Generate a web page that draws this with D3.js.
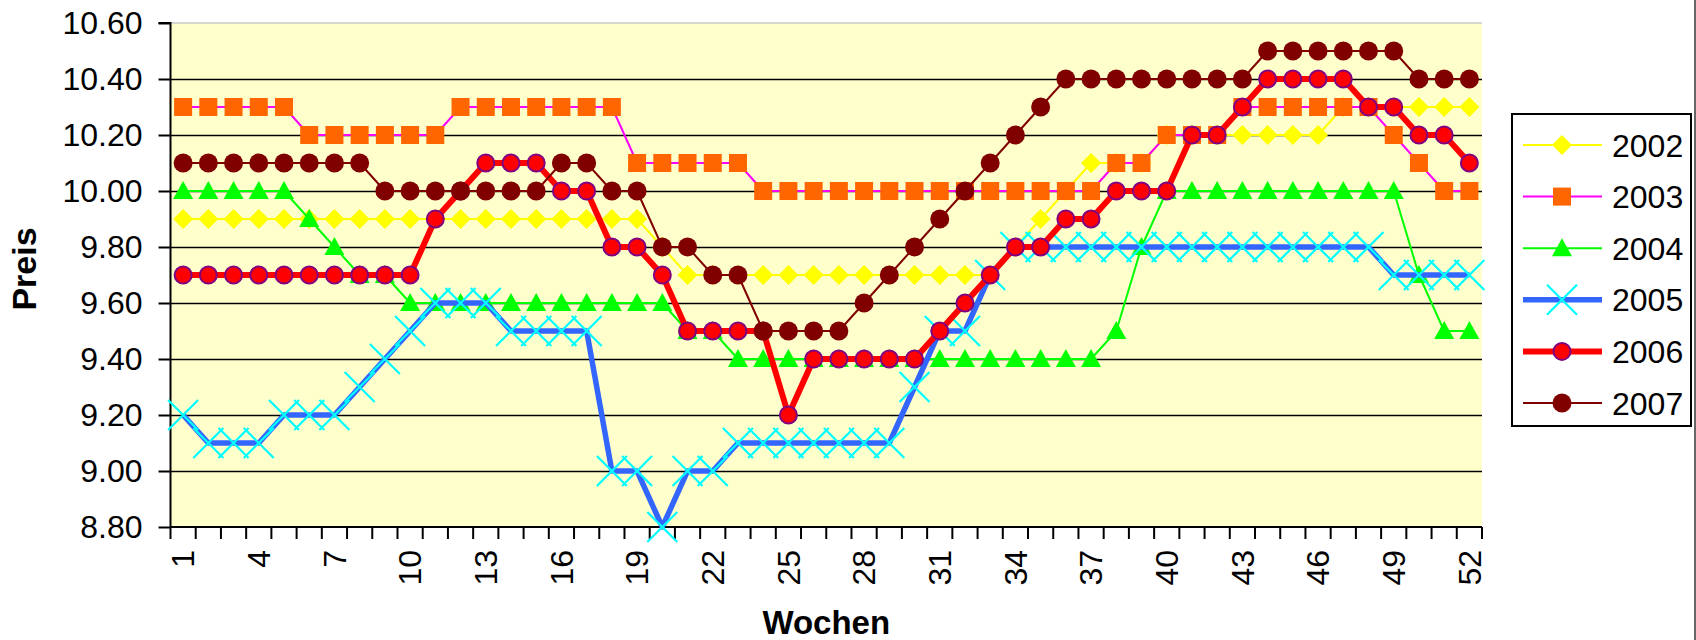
<!DOCTYPE html>
<html>
<head>
<meta charset="utf-8">
<script src="https://cdn.jsdelivr.net/npm/d3@7"></script>
<style>
  html, body { margin: 0; padding: 0; background: #fff; }
  svg { display: block; font-family: "Liberation Sans", Arial, sans-serif; }
</style>
</head>
<body>
<svg id="chart" width="1696" height="640"></svg>
<script>
// Weekly prices per year (weeks 1..52)
const weeks = d3.range(1, 53);
const yTicks = [8.8, 9.0, 9.2, 9.4, 9.6, 9.8, 10.0, 10.2, 10.4, 10.6];
const weekLabels = [1, 4, 7, 10, 13, 16, 19, 22, 25, 28, 31, 34, 37, 40, 43, 46, 49, 52];

const p2002 = [9.9,9.9,9.9,9.9,9.9,9.9,9.9,9.9,9.9,9.9,9.9,9.9,9.9,9.9,9.9,9.9,9.9,9.9,9.9,9.8,
  9.7,9.7,9.7,9.7,9.7,9.7,9.7,9.7,9.7,9.7,9.7,9.7,9.7,9.8,9.9,10.0,10.1,10.1,10.1,10.2,
  10.2,10.2,10.2,10.2,10.2,10.2,10.3,10.3,10.3,10.3,10.3,10.3];
const p2003 = [10.3,10.3,10.3,10.3,10.3,10.2,10.2,10.2,10.2,10.2,10.2,10.3,10.3,10.3,10.3,10.3,10.3,10.3,10.1,10.1,
  10.1,10.1,10.1,10.0,10.0,10.0,10.0,10.0,10.0,10.0,10.0,10.0,10.0,10.0,10.0,10.0,10.0,10.1,10.1,10.2,
  10.2,10.2,10.3,10.3,10.3,10.3,10.3,10.3,10.2,10.1,10.0,10.0];
const p2004 = [10.0,10.0,10.0,10.0,10.0,9.9,9.8,9.7,9.7,9.6,9.6,9.6,9.6,9.6,9.6,9.6,9.6,9.6,9.6,9.6,
  9.5,9.5,9.4,9.4,9.4,9.4,9.4,9.4,9.4,9.4,9.4,9.4,9.4,9.4,9.4,9.4,9.4,9.5,9.8,10.0,
  10.0,10.0,10.0,10.0,10.0,10.0,10.0,10.0,10.0,9.7,9.5,9.5];
const p2005 = [9.2,9.1,9.1,9.1,9.2,9.2,9.2,9.3,9.4,9.5,9.6,9.6,9.6,9.5,9.5,9.5,9.5,9.0,9.0,8.8,
  9.0,9.0,9.1,9.1,9.1,9.1,9.1,9.1,9.1,9.3,9.5,9.5,9.7,9.8,9.8,9.8,9.8,9.8,9.8,9.8,
  9.8,9.8,9.8,9.8,9.8,9.8,9.8,9.8,9.7,9.7,9.7,9.7];
const p2006 = [9.7,9.7,9.7,9.7,9.7,9.7,9.7,9.7,9.7,9.7,9.9,10.0,10.1,10.1,10.1,10.0,10.0,9.8,9.8,9.7,
  9.5,9.5,9.5,9.5,9.2,9.4,9.4,9.4,9.4,9.4,9.5,9.6,9.7,9.8,9.8,9.9,9.9,10.0,10.0,10.0,
  10.2,10.2,10.3,10.4,10.4,10.4,10.4,10.3,10.3,10.2,10.2,10.1];
const p2007 = [10.1,10.1,10.1,10.1,10.1,10.1,10.1,10.1,10.0,10.0,10.0,10.0,10.0,10.0,10.0,10.1,10.1,10.0,10.0,9.8,
  9.8,9.7,9.7,9.5,9.5,9.5,9.5,9.6,9.7,9.8,9.9,10.0,10.1,10.2,10.3,10.4,10.4,10.4,10.4,10.4,
  10.4,10.4,10.4,10.5,10.5,10.5,10.5,10.5,10.5,10.4,10.4,10.4];

const series = [
  { name: "2002", values: p2002, line: "#FFFF00", width: 2, marker: "diamond", fill: "#FFFF00", stroke: "none" },
  { name: "2003", values: p2003, line: "#FF00FF", width: 2, marker: "square", fill: "#FF6600", stroke: "none" },
  { name: "2004", values: p2004, line: "#00FF00", width: 2, marker: "triangle", fill: "#00FF00", stroke: "none" },
  { name: "2005", values: p2005, line: "#3366FF", width: 5.5, marker: "x", fill: "none", stroke: "#00FFFF" },
  { name: "2006", values: p2006, line: "#FF0000", width: 6, marker: "circle", fill: "#FF0000", stroke: "#800080" },
  { name: "2007", values: p2007, line: "#800000", width: 2, marker: "circle", fill: "#800000", stroke: "none" }
];

const svg = d3.select("#chart");
const plot = { left: 170.5, right: 1482, top: 23, bottom: 527 };

const x = d3.scaleBand().domain(weeks).range([plot.left, plot.right]).padding(0);
const y = d3.scaleLinear().domain([8.8, 10.6]).range([plot.bottom, plot.top]);
const cx = w => x(w) + x.bandwidth() / 2;

// plot background
svg.append("rect")
  .attr("x", plot.left).attr("y", plot.top)
  .attr("width", plot.right - plot.left).attr("height", plot.bottom - plot.top)
  .attr("fill", "#FFFFCC");

// top border of plot area
svg.append("line")
  .attr("x1", plot.left).attr("x2", plot.right)
  .attr("y1", plot.top).attr("y2", plot.top)
  .attr("stroke", "#c8c8c8").attr("stroke-width", 1.5);

// horizontal gridlines
svg.append("g").selectAll("line")
  .data(yTicks.filter(v => v > 8.8 && v < 10.6))
  .join("line")
  .attr("x1", plot.left).attr("x2", plot.right)
  .attr("y1", d => Math.round(y(d)) + 0.5).attr("y2", d => Math.round(y(d)) + 0.5)
  .attr("stroke", "#000").attr("stroke-width", 1.6);

// y axis
const yAxis = d3.axisLeft(y).tickValues(yTicks).tickFormat(d3.format(".2f")).tickSize(12).tickPadding(16);
const gy = svg.append("g").attr("transform", `translate(${plot.left},0)`).call(yAxis);
gy.select(".domain").attr("stroke", "#000").attr("stroke-width", 2).attr("d", `M-12,${plot.top}H0V${plot.bottom}`);
gy.selectAll(".tick line").attr("stroke", "#000").attr("stroke-width", 2);
gy.selectAll(".tick text").attr("font-size", 32).attr("fill", "#000")
  .attr("font-family", "'Liberation Sans', Arial, sans-serif");

// x axis: ticks at every category boundary
const gx = svg.append("g").attr("transform", `translate(0,${plot.bottom})`);
gx.append("line").attr("x1", plot.left).attr("x2", plot.right)
  .attr("y1", 0).attr("y2", 0).attr("stroke", "#000").attr("stroke-width", 2);
gx.selectAll("line.tk")
  .data(weeks.map(w => x(w)).concat([plot.right]))
  .join("line").attr("class", "tk")
  .attr("x1", d => d).attr("x2", d => d)
  .attr("y1", 0).attr("y2", 12)
  .attr("stroke", "#000").attr("stroke-width", 2);
gx.selectAll("text")
  .data(weekLabels)
  .join("text")
  .attr("transform", d => `translate(${cx(d)},23) rotate(-90)`)
  .attr("text-anchor", "end")
  .attr("dy", "0.35em")
  .attr("font-size", 32)
  .attr("fill", "#000")
  .text(d => d);

// axis titles
svg.append("text")
  .attr("transform", `translate(36,${(plot.top + plot.bottom) / 2 - 6}) rotate(-90)`)
  .attr("text-anchor", "middle")
  .attr("font-size", 34).attr("font-weight", "bold")
  .text("Preis");
svg.append("text")
  .attr("x", (plot.left + plot.right) / 2).attr("y", 634)
  .attr("text-anchor", "middle")
  .attr("font-size", 33).attr("font-weight", "bold")
  .text("Wochen");

// marker shapes
function drawMarker(g, s, px, py) {
  if (s.marker === "diamond") {
    g.append("path").attr("d", `M${px},${py - 10}L${px + 10},${py}L${px},${py + 10}L${px - 10},${py}Z`)
      .attr("fill", s.fill);
  } else if (s.marker === "square") {
    g.append("rect").attr("x", px - 9).attr("y", py - 9).attr("width", 18).attr("height", 18)
      .attr("fill", s.fill);
  } else if (s.marker === "triangle") {
    g.append("path").attr("d", `M${px},${py - 10}L${px + 10},${py + 8}L${px - 10},${py + 8}Z`)
      .attr("fill", s.fill);
  } else if (s.marker === "x") {
    g.append("path").attr("d", `M${px - 15},${py - 15}L${px + 15},${py + 15}M${px - 15},${py + 15}L${px + 15},${py - 15}`)
      .attr("stroke", s.stroke).attr("stroke-width", 2.2).attr("fill", "none");
  } else if (s.marker === "circle") {
    g.append("circle").attr("cx", px).attr("cy", py).attr("r", s.stroke === "none" ? 9.5 : 8.5)
      .attr("fill", s.fill)
      .attr("stroke", s.stroke === "none" ? null : s.stroke)
      .attr("stroke-width", s.stroke === "none" ? null : 2);
  }
}

const line = d3.line().x((d, i) => cx(weeks[i])).y(d => y(d));

series.forEach(s => {
  const g = svg.append("g");
  g.append("path").datum(s.values)
    .attr("d", line)
    .attr("fill", "none")
    .attr("stroke", s.line)
    .attr("stroke-width", s.width)
    .attr("stroke-linejoin", "round");
  s.values.forEach((v, i) => drawMarker(g, s, cx(weeks[i]), y(v)));
});

// legend
const lg = svg.append("g");
lg.append("rect").attr("x", 1512).attr("y", 114).attr("width", 179).attr("height", 312)
  .attr("fill", "#fff").attr("stroke", "#000").attr("stroke-width", 2);
series.forEach((s, i) => {
  const ly = 145 + i * 51.6;
  lg.append("line").attr("x1", 1523).attr("x2", 1602).attr("y1", ly).attr("y2", ly)
    .attr("stroke", s.line).attr("stroke-width", s.width);
  drawMarker(lg, s, 1562, ly);
  lg.append("text").attr("x", 1612).attr("y", ly).attr("dy", "0.36em")
    .attr("font-size", 32).attr("fill", "#000").text(s.name);
});

// outer chart border (right edge)
svg.append("line").attr("x1", 1695).attr("x2", 1695).attr("y1", 0).attr("y2", 640)
  .attr("stroke", "#333").attr("stroke-width", 1.5);
</script>
</body>
</html>
